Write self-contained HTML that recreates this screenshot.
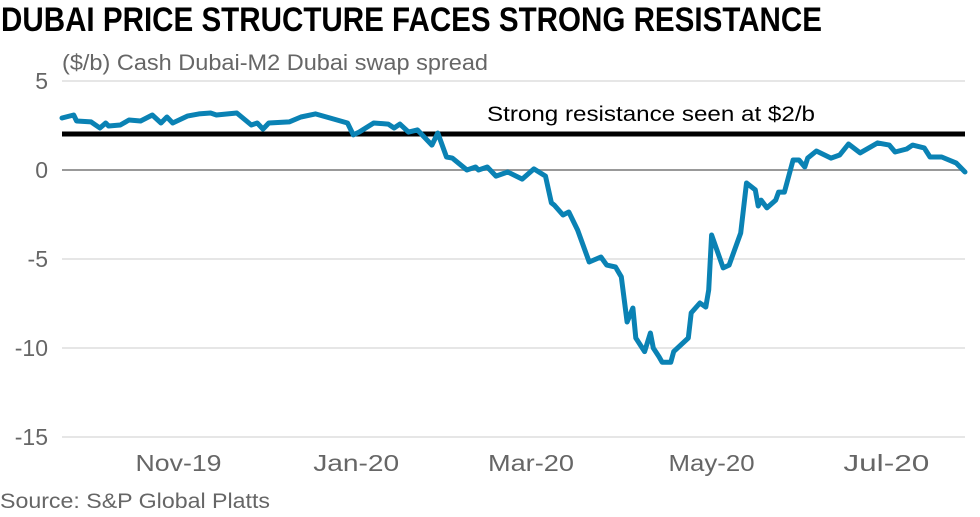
<!DOCTYPE html>
<html><head><meta charset="utf-8"><style>
html,body{margin:0;padding:0;background:#fff;width:980px;height:517px;overflow:hidden}
svg{display:block;font-family:"Liberation Sans",sans-serif}
</style></head><body>
<svg id="chart" width="980" height="517" viewBox="0 0 980 517">
<text x="1" y="31" font-size="34" font-weight="bold" fill="#000" textLength="821" lengthAdjust="spacingAndGlyphs">DUBAI PRICE STRUCTURE FACES STRONG RESISTANCE</text>
<text x="62" y="70" font-size="22" fill="#666" textLength="426" lengthAdjust="spacingAndGlyphs">($/b) Cash Dubai-M2 Dubai swap spread</text>
<g id="grid"></g><g id="yticks"></g><g id="xticks"></g>
<line x1="62" x2="965" y1="134" y2="134" stroke="#000" stroke-width="5"/>
<text x="487" y="121" font-size="21" fill="#000" textLength="328" lengthAdjust="spacingAndGlyphs">Strong resistance seen at $2/b</text>
<path id="series" fill="none" stroke="#0a82b4" stroke-width="5" stroke-linejoin="round" stroke-linecap="round"/>
<text x="0" y="508" font-size="21" fill="#666" textLength="270" lengthAdjust="spacingAndGlyphs">Source: S&amp;P Global Platts</text>
</svg>
<script>
const days=[0,4,5,10,13,15,16,20,23,27,31,34,36,38,43,47,51,53,60,65,67,69,71,78,82,87,92,98,100,102,107,112,114,116,119,122,127,129,132,134,139,142,143,146,149,153,158,162,166,168,169,172,174,177,181,185,187,190,192,194,196,197,200,202,203,205,206,209,210,215,216,219,221,222,223,227,229,233,235,238,239,240,242,245,246,248,251,253,255,256,259,264,267,270,274,280,284,286,290,292,296,298,302,307,310];
const values=[2.92,3.09,2.75,2.70,2.36,2.64,2.47,2.53,2.81,2.75,3.09,2.64,2.98,2.64,3.03,3.15,3.2,3.09,3.2,2.53,2.64,2.30,2.64,2.70,2.98,3.15,2.92,2.64,1.97,2.13,2.64,2.58,2.36,2.58,2.13,2.25,1.40,2.08,0.73,0.67,0,0.17,0,0.17,-0.34,-0.11,-0.51,0.06,-0.34,-1.85,-1.97,-2.53,-2.36,-3.37,-5.17,-4.89,-5.34,-5.45,-6.0,-8.54,-7.75,-9.44,-10.2,-9.16,-10.0,-10.5,-10.8,-10.8,-10.2,-9.44,-8.03,-7.47,-7.70,-6.74,-3.65,-5.5,-5.34,-3.54,-0.73,-1.12,-2.02,-1.69,-2.13,-1.69,-1.24,-1.24,0.56,0.56,0.17,0.67,1.07,0.67,0.84,1.46,0.96,1.52,1.40,1.01,1.18,1.40,1.24,0.73,0.73,0.39,-0.11];
const yTicks=[5,0,-5,-10,-15];
const xTickLabels=["Nov-19","Jan-20","Mar-20","May-20","Jul-20"];
const xTickDays=[40,101,161,223,283];
const X0=62,X1=965,DMAX=310;
const x=d=>X0+d*(X1-X0)/DMAX;
const y=v=>170-v*17.8;
const NS="http://www.w3.org/2000/svg";
const g=document.getElementById('grid'),yt=document.getElementById('yticks'),xt=document.getElementById('xticks');
yTicks.forEach(t=>{
 const l=document.createElementNS(NS,'line');
 l.setAttribute('x1',X0);l.setAttribute('x2',X1);l.setAttribute('y1',y(t));l.setAttribute('y2',y(t));
 l.setAttribute('stroke',t===0?'#999':'#ddd');l.setAttribute('stroke-width',t===0?2:1.5);
 
 
 g.appendChild(l);
 const tx=document.createElementNS(NS,'text');
 tx.setAttribute('x',48);tx.setAttribute('y',y(t)+8);tx.setAttribute('text-anchor','end');
 tx.setAttribute('font-size','23');tx.setAttribute('fill','#666');tx.textContent=t;
 
 
 yt.appendChild(tx);
});
xTickLabels.forEach((lab,i)=>{
 const tx=document.createElementNS(NS,'text');
 tx.setAttribute('x',x(xTickDays[i]));tx.setAttribute('y',471);tx.setAttribute('text-anchor','middle');
 tx.setAttribute('font-size','23');tx.setAttribute('fill','#666');tx.textContent=lab;
 tx.setAttribute('textLength','86');tx.setAttribute('lengthAdjust','spacingAndGlyphs');
 
 
 xt.appendChild(tx);
});
document.getElementById('series').setAttribute('d',days.map((d,i)=>(i?'L':'M')+x(d).toFixed(1)+' '+y(values[i]).toFixed(1)).join(' '));
</script>
</body></html>
